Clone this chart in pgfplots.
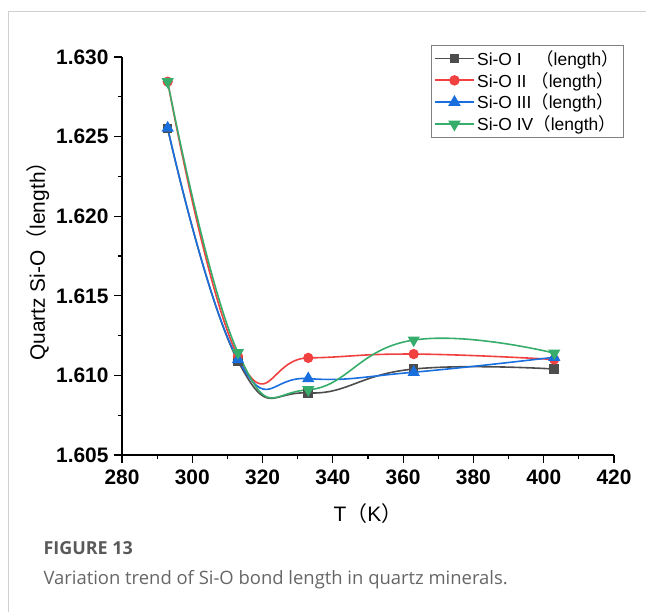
\documentclass[border=0pt]{standalone}
\usepackage{fontspec}
\setmainfont{Liberation Sans}
\newfontfamily\cjk{Noto Sans CJK SC}
\newfontfamily\capfont{Open Sans}
\usepackage{pgfplots}
\pgfplotsset{compat=1.18}
\definecolor{oblack}{HTML}{4D4D4D}
\definecolor{ored}{HTML}{F14040}
\definecolor{oblue}{HTML}{1A6FDF}
\definecolor{ogreen}{HTML}{37AD6B}
\definecolor{framegray}{HTML}{D0D0D0}
\newcommand{\lp}{{\cjk （}}
\newcommand{\rp}{{\cjk ）}}
\begin{document}
\begin{tikzpicture}
\useasboundingbox (0,0) rectangle (646bp,612bp);
\draw[framegray, line width=1bp] (8bp,0) -- (8bp,600bp) -- (646bp,600bp);
\begin{axis}[
  at={(122bp,157bp)}, anchor=south west,
  width=492bp, height=398bp, scale only axis,
  xmin=280, xmax=420, ymin=1.605, ymax=1.630,
  xtick={280,300,320,340,360,380,400,420},
  ytick={1.605,1.610,1.615,1.620,1.625,1.630},
  minor x tick num=1, minor y tick num=1,
  axis x line*=bottom, axis y line*=left,
  tick align=outside, major tick length=8bp, minor tick length=4.5bp,
  axis line style={line width=1.2bp, black},
  tick style={line width=1.2bp, black},
  scaled y ticks=false,
  /pgf/number format/assume math mode=true,
  yticklabel style={/pgf/number format/fixed, /pgf/number format/fixed zerofill,
    /pgf/number format/precision=3, xshift=-2bp},
  xticklabel style={/pgf/number format/fixed, /pgf/number format/precision=0, yshift=-3bp},
  ticklabel style={font=\fontsize{21}{21}\selectfont\bfseries},
  label style={font=\fontsize{21}{24}\selectfont},
  xlabel={T\lp K\rp},
  xlabel style={yshift=-12bp},
  ylabel={Quartz Si-O\lp length\rp},
  legend style={at={(1.02,1.03)}, anchor=north east, draw=gray,
    font=\fontsize{17.5}{19}\selectfont, row sep=1.5bp, inner sep=3bp,
    legend cell align=left},
  legend image code/.code={\draw[line width=1.8bp, mark repeat=2, mark phase=2]
    plot coordinates {(0cm,0cm) (0.7cm,0cm) (1.4cm,0cm)};},
]
\addplot[oblack, line width=1.6bp, smooth, tension=0.8, mark=square*, mark size=4bp, mark options={solid}] coordinates {
  (293,1.6255) (313,1.6109) (333,1.6089) (363,1.6104) (403,1.6104)};
\addlegendentry{Si-O I\ \ \ \lp length\rp}
\addplot[ored, line width=1.6bp, smooth, tension=0.8, mark=*, mark size=4.3bp] coordinates {
  (293,1.62845) (313,1.6112) (333,1.6111) (363,1.61134) (403,1.6110)};
\addlegendentry{Si-O II\ \lp length\rp}
\addplot[oblue, line width=1.6bp, smooth, tension=0.8, mark=triangle*, mark size=5.5bp] coordinates {
  (293,1.62554) (313,1.6110) (333,1.6098) (363,1.6102) (403,1.61114)};
\addlegendentry{Si-O III\lp length\rp}
\addplot[ogreen, line width=1.6bp, smooth, tension=0.8, mark=triangle*, mark size=5.5bp, mark options={rotate=180}] coordinates {
  (293,1.62845) (313,1.61143) (333,1.6091) (363,1.61222) (403,1.6114)};
\addlegendentry{Si-O IV\lp length\rp}
\end{axis}
\node[anchor=base west, text=black!65, font=\capfont\fontsize{18}{20}\selectfont\bfseries] at (40bp,57bp) {FIGURE 13};
\node[anchor=base west, text=black!60, font=\capfont\fontsize{18.5}{20}\selectfont] at (40bp,28bp) {Variation trend of Si-O bond length in quartz minerals.};
\end{tikzpicture}
\end{document}
